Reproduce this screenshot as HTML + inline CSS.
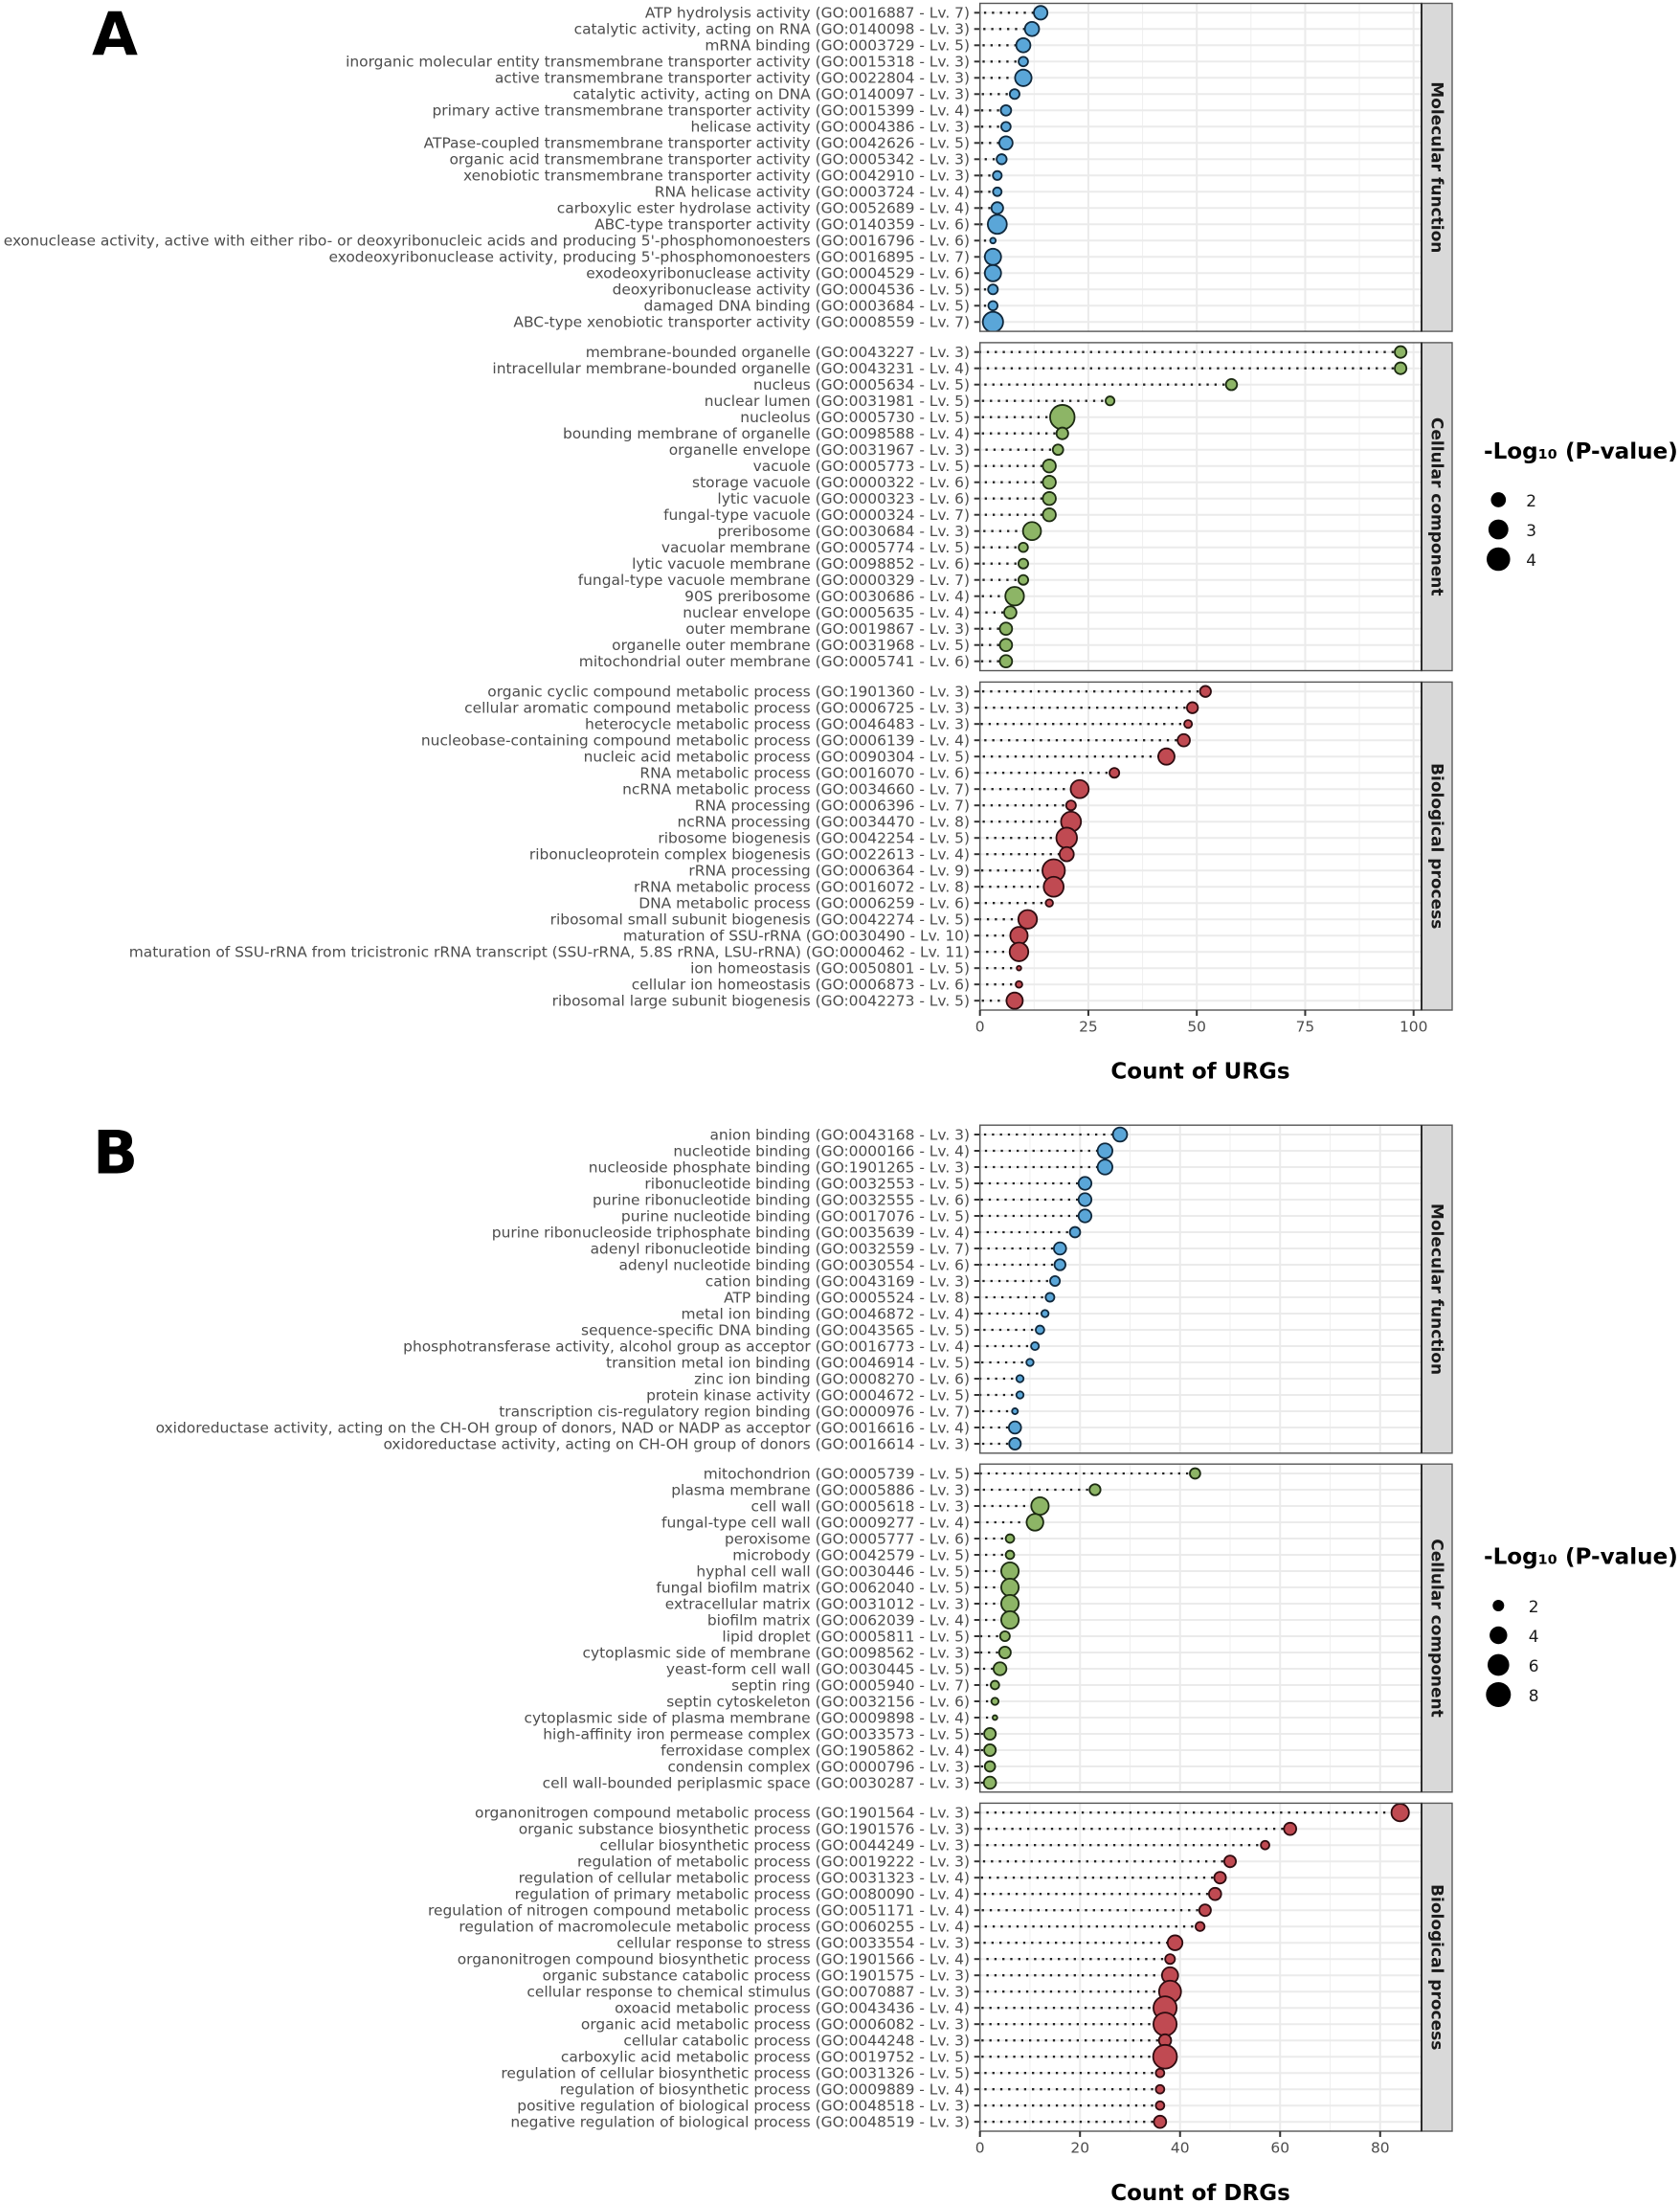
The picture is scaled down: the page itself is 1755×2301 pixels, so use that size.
<!DOCTYPE html>
<html lang="en">
<head>
<meta charset="utf-8">
<title>GO enrichment lollipop charts</title>
<style>
html,body{margin:0;padding:0;background:#fff;}
svg{display:block;font-family:"DejaVu Sans","Liberation Sans",sans-serif;}
</style>
</head>
<body>
<svg id="figure" xmlns="http://www.w3.org/2000/svg" width="1755" height="2301" viewBox="0 0 1755 2301">
  <rect width="1755" height="2301" fill="#fff"/>
  <text x="96" y="57.5" font-size="62" font-weight="700" fill="#000">A</text>
  <text x="97" y="1225.7" font-size="62" font-weight="700" fill="#000">B</text>
  <text x="1254" y="1126.7" font-size="23" font-weight="700" text-anchor="middle" fill="#000">Count of URGs</text>
  <text x="1254" y="2298" font-size="23" font-weight="700" text-anchor="middle" fill="#000">Count of DRGs</text>
  <text x="1550" y="478.8" font-size="23.1" font-weight="700" fill="#000">-Log₁₀ (P-value)</text>
  <text x="1550" y="1633.5" font-size="23.1" font-weight="700" fill="#000">-Log₁₀ (P-value)</text>
</svg>
<script>
const aTicks = [0, 25, 50, 75, 100];
const bTicks = [0, 20, 40, 60, 80];
const aMinorTicks = [12.5, 37.5, 62.5, 87.5];
const bMinorTicks = [10, 30, 50, 70];
const aLegendValues = [2, 3, 4];
const bLegendValues = [2, 4, 6, 8];
const stripTitles = ["Molecular function", "Cellular component", "Biological process"];

const aMfTerms = [
"ATP hydrolysis activity (GO:0016887 - Lv. 7)",
"catalytic activity, acting on RNA (GO:0140098 - Lv. 3)",
"mRNA binding (GO:0003729 - Lv. 5)",
"inorganic molecular entity transmembrane transporter activity (GO:0015318 - Lv. 3)",
"active transmembrane transporter activity (GO:0022804 - Lv. 3)",
"catalytic activity, acting on DNA (GO:0140097 - Lv. 3)",
"primary active transmembrane transporter activity (GO:0015399 - Lv. 4)",
"helicase activity (GO:0004386 - Lv. 3)",
"ATPase-coupled transmembrane transporter activity (GO:0042626 - Lv. 5)",
"organic acid transmembrane transporter activity (GO:0005342 - Lv. 3)",
"xenobiotic transmembrane transporter activity (GO:0042910 - Lv. 3)",
"RNA helicase activity (GO:0003724 - Lv. 4)",
"carboxylic ester hydrolase activity (GO:0052689 - Lv. 4)",
"ABC-type transporter activity (GO:0140359 - Lv. 6)",
"exonuclease activity, active with either ribo- or deoxyribonucleic acids and producing 5'-phosphomonoesters (GO:0016796 - Lv. 6)",
"exodeoxyribonuclease activity, producing 5'-phosphomonoesters (GO:0016895 - Lv. 7)",
"exodeoxyribonuclease activity (GO:0004529 - Lv. 6)",
"deoxyribonuclease activity (GO:0004536 - Lv. 5)",
"damaged DNA binding (GO:0003684 - Lv. 5)",
"ABC-type xenobiotic transporter activity (GO:0008559 - Lv. 7)"];
const aMfCounts = [14,12,10,10,10,8,6,6,6,5,4,4,4,4,3,3,3,3,3,3];
const aMfLogP = [2.05,2.15,2.15,1.52,2.6,1.55,1.62,1.52,2.0,1.58,1.47,1.45,1.77,3.2,1.31,2.55,2.55,1.55,1.5,3.55];

const aCcTerms = [
"membrane-bounded organelle (GO:0043227 - Lv. 3)",
"intracellular membrane-bounded organelle (GO:0043231 - Lv. 4)",
"nucleus (GO:0005634 - Lv. 5)",
"nuclear lumen (GO:0031981 - Lv. 5)",
"nucleolus (GO:0005730 - Lv. 5)",
"bounding membrane of organelle (GO:0098588 - Lv. 4)",
"organelle envelope (GO:0031967 - Lv. 3)",
"vacuole (GO:0005773 - Lv. 5)",
"storage vacuole (GO:0000322 - Lv. 6)",
"lytic vacuole (GO:0000323 - Lv. 6)",
"fungal-type vacuole (GO:0000324 - Lv. 7)",
"preribosome (GO:0030684 - Lv. 3)",
"vacuolar membrane (GO:0005774 - Lv. 5)",
"lytic vacuole membrane (GO:0098852 - Lv. 6)",
"fungal-type vacuole membrane (GO:0000329 - Lv. 7)",
"90S preribosome (GO:0030686 - Lv. 4)",
"nuclear envelope (GO:0005635 - Lv. 4)",
"outer membrane (GO:0019867 - Lv. 3)",
"organelle outer membrane (GO:0031968 - Lv. 5)",
"mitochondrial outer membrane (GO:0005741 - Lv. 6)"];
const aCcCounts = [97,97,58,30,19,19,18,16,16,16,16,12,10,10,10,8,7,6,6,6];
const aCcLogP = [1.77,1.77,1.7,1.47,4.9,1.77,1.62,1.95,1.95,1.95,1.95,2.95,1.5,1.55,1.55,3.1,1.85,1.85,1.85,1.85];

const aBpTerms = [
"organic cyclic compound metabolic process (GO:1901360 - Lv. 3)",
"cellular aromatic compound metabolic process (GO:0006725 - Lv. 3)",
"heterocycle metabolic process (GO:0046483 - Lv. 3)",
"nucleobase-containing compound metabolic process (GO:0006139 - Lv. 4)",
"nucleic acid metabolic process (GO:0090304 - Lv. 5)",
"RNA metabolic process (GO:0016070 - Lv. 6)",
"ncRNA metabolic process (GO:0034660 - Lv. 7)",
"RNA processing (GO:0006396 - Lv. 7)",
"ncRNA processing (GO:0034470 - Lv. 8)",
"ribosome biogenesis (GO:0042254 - Lv. 5)",
"ribonucleoprotein complex biogenesis (GO:0022613 - Lv. 4)",
"rRNA processing (GO:0006364 - Lv. 9)",
"rRNA metabolic process (GO:0016072 - Lv. 8)",
"DNA metabolic process (GO:0006259 - Lv. 6)",
"ribosomal small subunit biogenesis (GO:0042274 - Lv. 5)",
"maturation of SSU-rRNA (GO:0030490 - Lv. 10)",
"maturation of SSU-rRNA from tricistronic rRNA transcript (SSU-rRNA, 5.8S rRNA, LSU-rRNA) (GO:0000462 - Lv. 11)",
"ion homeostasis (GO:0050801 - Lv. 5)",
"cellular ion homeostasis (GO:0006873 - Lv. 6)",
"ribosomal large subunit biogenesis (GO:0042273 - Lv. 5)"];
const aBpCounts = [52,49,48,47,43,31,23,21,21,20,20,17,17,16,11,9,9,9,9,8];
const aBpLogP = [1.68,1.68,1.4,1.85,2.55,1.55,2.95,1.55,3.45,3.65,2.15,4.2,3.45,1.37,3.1,2.8,3.1,1.3,1.34,2.55];

const bMfTerms = [
"anion binding (GO:0043168 - Lv. 3)",
"nucleotide binding (GO:0000166 - Lv. 4)",
"nucleoside phosphate binding (GO:1901265 - Lv. 3)",
"ribonucleotide binding (GO:0032553 - Lv. 5)",
"purine ribonucleotide binding (GO:0032555 - Lv. 6)",
"purine nucleotide binding (GO:0017076 - Lv. 5)",
"purine ribonucleoside triphosphate binding (GO:0035639 - Lv. 4)",
"adenyl ribonucleotide binding (GO:0032559 - Lv. 7)",
"adenyl nucleotide binding (GO:0030554 - Lv. 6)",
"cation binding (GO:0043169 - Lv. 3)",
"ATP binding (GO:0005524 - Lv. 8)",
"metal ion binding (GO:0046872 - Lv. 4)",
"sequence-specific DNA binding (GO:0043565 - Lv. 5)",
"phosphotransferase activity, alcohol group as acceptor (GO:0016773 - Lv. 4)",
"transition metal ion binding (GO:0046914 - Lv. 5)",
"zinc ion binding (GO:0008270 - Lv. 6)",
"protein kinase activity (GO:0004672 - Lv. 5)",
"transcription cis-regulatory region binding (GO:0000976 - Lv. 7)",
"oxidoreductase activity, acting on the CH-OH group of donors, NAD or NADP as acceptor (GO:0016616 - Lv. 4)",
"oxidoreductase activity, acting on CH-OH group of donors (GO:0016614 - Lv. 3)"];
const bMfCounts = [28,25,25,21,21,21,19,16,16,15,14,13,12,11,10,8,8,7,7,7];
const bMfLogP = [3.3,3.55,3.55,2.85,2.85,2.85,2.15,2.65,2.3,2.0,1.8,1.55,1.75,1.65,1.55,1.55,1.55,1.41,2.65,2.48];

const bCcTerms = [
"mitochondrion (GO:0005739 - Lv. 5)",
"plasma membrane (GO:0005886 - Lv. 3)",
"cell wall (GO:0005618 - Lv. 3)",
"fungal-type cell wall (GO:0009277 - Lv. 4)",
"peroxisome (GO:0005777 - Lv. 6)",
"microbody (GO:0042579 - Lv. 5)",
"hyphal cell wall (GO:0030446 - Lv. 5)",
"fungal biofilm matrix (GO:0062040 - Lv. 5)",
"extracellular matrix (GO:0031012 - Lv. 3)",
"biofilm matrix (GO:0062039 - Lv. 4)",
"lipid droplet (GO:0005811 - Lv. 5)",
"cytoplasmic side of membrane (GO:0098562 - Lv. 3)",
"yeast-form cell wall (GO:0030445 - Lv. 5)",
"septin ring (GO:0005940 - Lv. 7)",
"septin cytoskeleton (GO:0032156 - Lv. 6)",
"cytoplasmic side of plasma membrane (GO:0009898 - Lv. 4)",
"high-affinity iron permease complex (GO:0033573 - Lv. 5)",
"ferroxidase complex (GO:1905862 - Lv. 4)",
"condensin complex (GO:0000796 - Lv. 3)",
"cell wall-bounded periplasmic space (GO:0030287 - Lv. 3)"];
const bCcCounts = [43,23,12,11,6,6,6,6,6,6,5,5,4,3,3,3,2,2,2,2];
const bCcLogP = [2.15,2.3,4.7,4.35,1.75,1.75,4.7,4.7,4.7,4.7,2.0,2.48,2.85,1.75,1.55,1.33,2.48,2.48,2.15,2.65];

const bBpTerms = [
"organonitrogen compound metabolic process (GO:1901564 - Lv. 3)",
"organic substance biosynthetic process (GO:1901576 - Lv. 3)",
"cellular biosynthetic process (GO:0044249 - Lv. 3)",
"regulation of metabolic process (GO:0019222 - Lv. 3)",
"regulation of cellular metabolic process (GO:0031323 - Lv. 4)",
"regulation of primary metabolic process (GO:0080090 - Lv. 4)",
"regulation of nitrogen compound metabolic process (GO:0051171 - Lv. 4)",
"regulation of macromolecule metabolic process (GO:0060255 - Lv. 4)",
"cellular response to stress (GO:0033554 - Lv. 3)",
"organonitrogen compound biosynthetic process (GO:1901566 - Lv. 4)",
"organic substance catabolic process (GO:1901575 - Lv. 3)",
"cellular response to chemical stimulus (GO:0070887 - Lv. 3)",
"oxoacid metabolic process (GO:0043436 - Lv. 4)",
"organic acid metabolic process (GO:0006082 - Lv. 3)",
"cellular catabolic process (GO:0044248 - Lv. 3)",
"carboxylic acid metabolic process (GO:0019752 - Lv. 5)",
"regulation of cellular biosynthetic process (GO:0031326 - Lv. 5)",
"regulation of biosynthetic process (GO:0009889 - Lv. 4)",
"positive regulation of biological process (GO:0048518 - Lv. 3)",
"negative regulation of biological process (GO:0048519 - Lv. 3)"];
const bBpCounts = [84,62,57,50,48,47,45,44,39,38,38,38,37,37,37,37,36,36,36,36];
const bBpLogP = [4.7,2.65,1.75,2.48,2.48,2.65,2.48,1.85,3.55,2.0,4.1,7.2,8.0,8.0,2.65,8.4,1.75,1.75,1.75,2.65];

const NS = 'http://www.w3.org/2000/svg';
const figure = document.getElementById('figure');
const LEFT = 1023.7, PANEL_RIGHT = 1485, STRIP_RIGHT = 1517, ROW_STEP = 17, ROW_PAD = 9.8;
const FILLS = ['#5AA6D8', '#8DB566', '#C04A52'];
const STROKES = ['#10283c', '#1c2a12', '#2e0c10'];

function make(tag, attrs, parent) {
  const node = document.createElementNS(NS, tag);
  for (const key in attrs) node.setAttribute(key, attrs[key]);
  parent.appendChild(node);
  return node;
}

function sizeA(v) { return 6.5 + 11 * Math.sqrt(Math.max(v - 1.3, 0)); }
function sizeB(v) { return 5.3 + 8 * Math.sqrt(Math.max(v - 1.3, 0)); }
function scaleA(c) { return LEFT + c * 4.53; }
function scaleB(c) { return LEFT + c * 5.226; }

let clipSerial = 0;
function drawPanel(firstRowY, index, terms, counts, logP, xScale, sizeScale, ticks, minorTicks, isLast) {
  const nRows = terms.length;
  const top = firstRowY - ROW_PAD;
  const bottom = firstRowY + ROW_STEP * (nRows - 1) + ROW_PAD;
  const yOf = function (i) { return firstRowY + i * ROW_STEP; };
  const g = make('g', {}, figure);
  
  

  const clipId = 'clip' + (clipSerial++);
  const defs = make('defs', {}, g);
  const clip = make('clipPath', { id: clipId }, defs);
  make('rect', { x: LEFT, y: top, width: PANEL_RIGHT - LEFT, height: bottom - top }, clip);

  minorTicks.forEach(function (t) {
    const gridMinor = make('line', { x1: xScale(t), x2: xScale(t), y1: top, y2: bottom, stroke: '#EFEFEF', 'stroke-width': 1 }, g);
    
    
  });
  ticks.forEach(function (t) {
    const gridMajor = make('line', { x1: xScale(t), x2: xScale(t), y1: top, y2: bottom, stroke: '#EBEBEB', 'stroke-width': 2 }, g);
    
    
  });
  for (let i = 0; i < nRows; i++) {
    const gridRow = make('line', { x1: LEFT, x2: PANEL_RIGHT, y1: yOf(i), y2: yOf(i), stroke: '#EBEBEB', 'stroke-width': 2 }, g);
    
    
  }

  const marks = make('g', { 'clip-path': 'url(#' + clipId + ')' }, g);
  
  
  for (let i = 0; i < nRows; i++) {
    const stem = make('line', { x1: xScale(counts[i]), x2: xScale(0), y1: yOf(i), y2: yOf(i), stroke: '#222', 'stroke-width': 2.3, 'stroke-dasharray': '2.3 5.99', 'stroke-dashoffset': 1.15 }, marks);
    
    
  }
  for (let i = 0; i < nRows; i++) {
    const dot = make('circle', { cx: xScale(counts[i]), cy: yOf(i), r: sizeScale(logP[i]) / 2 - 0.9, fill: FILLS[index], stroke: STROKES[index], 'stroke-width': 1.8 }, marks);
    
    
  }

  for (let i = 0; i < nRows; i++) {
    const tick = make('line', { x1: LEFT - 6, x2: LEFT, y1: yOf(i), y2: yOf(i), stroke: '#333', 'stroke-width': 2 }, g);
    
    
    const label = make('text', { x: 1013, y: yOf(i) + 5.4, 'font-size': 15.45, 'text-anchor': 'end', fill: '#4D4D4D' }, g);
    label.textContent = terms[i];
    
    
  }

  const stripBox = make('rect', { x: PANEL_RIGHT, y: top, width: STRIP_RIGHT - PANEL_RIGHT, height: bottom - top, fill: '#D9D9D9', stroke: '#5a5a5a', 'stroke-width': 1.4 }, g);
  
  
  const border = make('rect', { x: LEFT, y: top, width: PANEL_RIGHT - LEFT, height: bottom - top, fill: 'none', stroke: '#555', 'stroke-width': 1.4 }, g);
  
  
  const divider = make('line', { x1: PANEL_RIGHT, x2: PANEL_RIGHT, y1: top, y2: bottom, stroke: '#222', 'stroke-width': 1.8 }, g);
  
  
  const cy = (top + bottom) / 2;
  const stripText = make('text', { x: 1495.5, y: cy, transform: 'rotate(90 1495.5 ' + cy + ')', 'font-size': 17, 'font-weight': 700, 'text-anchor': 'middle', fill: '#1A1A1A' }, g);
  stripText.textContent = stripTitles[index];
  
  

  if (isLast) {
    ticks.forEach(function (t) {
      const xTick = make('line', { x1: xScale(t), x2: xScale(t), y1: bottom, y2: bottom + 6, stroke: '#333', 'stroke-width': 2 }, g);
      
      
      const xLabel = make('text', { x: xScale(t), y: bottom + 22.5, 'font-size': 15.45, 'text-anchor': 'middle', fill: '#4D4D4D' }, g);
      xLabel.textContent = t;
      
      
    });
  }
}

function drawLegend(values, sizeScale, firstY, step, labelX) {
  values.forEach(function (v, i) {
    const y = firstY + i * step;
    const key = make('circle', { cx: 1565.3, cy: y, r: sizeScale(v) / 2, fill: '#000' }, figure);
    
    
    const text = make('text', { x: labelX, y: y + 7, 'font-size': 17, fill: '#1a1a1a' }, figure);
    text.textContent = v;
    
    
  });
}

drawPanel(13.3, 0, aMfTerms, aMfCounts, aMfLogP, scaleA, sizeA, aTicks, aMinorTicks, false);
drawPanel(367.7, 1, aCcTerms, aCcCounts, aCcLogP, scaleA, sizeA, aTicks, aMinorTicks, false);
drawPanel(722.2, 2, aBpTerms, aBpCounts, aBpLogP, scaleA, sizeA, aTicks, aMinorTicks, true);
drawPanel(1185, 0, bMfTerms, bMfCounts, bMfLogP, scaleB, sizeB, bTicks, bMinorTicks, false);
drawPanel(1539, 1, bCcTerms, bCcCounts, bCcLogP, scaleB, sizeB, bTicks, bMinorTicks, false);
drawPanel(1893.2, 2, bBpTerms, bBpCounts, bBpLogP, scaleB, sizeB, bTicks, bMinorTicks, true);
drawLegend(aLegendValues, sizeA, 522, 31, 1594.3);
drawLegend(bLegendValues, sizeB, 1677, 31, 1596.7);
</script>
</body>
</html>
